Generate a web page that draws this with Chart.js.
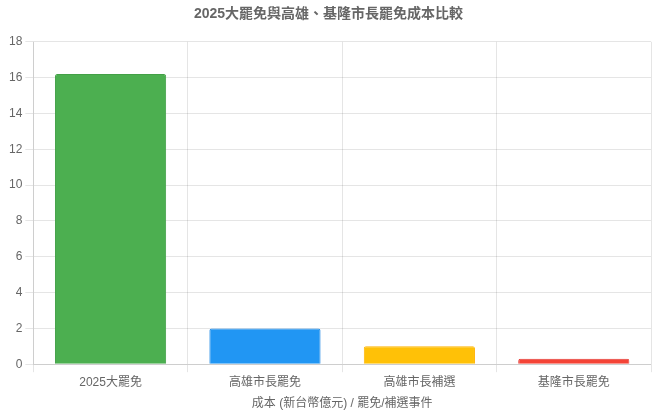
<!DOCTYPE html>
<html>
<head>
<meta charset="utf-8">
<script src="https://cdn.jsdelivr.net/npm/chart.js@4"></script>
<style>
  html, body { margin: 0; padding: 0; background: #fff; }
  #wrap { width: 661px; height: 415px; }
</style>
</head>
<body>
<div id="wrap"><canvas id="chart"></canvas></div>
<script>
// chart data
var categories = ["2025大罷免", "高雄市長罷免", "高雄市長補選", "基隆市長罷免"];
var costs = [16.2, 2.0, 1.0, 0.3];
var barColors = ["#4CAF50", "#2196F3", "#FFC107", "#F44336"];
var borderColors = ["#43A047", "#1E88E5", "#FFB300", "#E53935"];

Chart.defaults.font.family = "Arial, 'Liberation Sans', 'Noto Sans CJK TC', sans-serif";
Chart.defaults.color = "#666";

var ctx = document.getElementById("chart").getContext("2d");
var myChart = new Chart(ctx, {
    type: 'bar',
    data: {
        labels: categories,
        datasets: [{
            label: '成本 (新台幣億元)',
            data: costs,
            backgroundColor: barColors,
            borderColor: borderColors,
            borderWidth: 1,
            borderRadius: 2
        }]
    },
    options: {
        responsive: true,
        maintainAspectRatio: false,
        animation: false,
        layout: { padding: { left: 6, right: 10, bottom: 0 } },
        plugins: {
            legend: { display: false },
            title: {
                display: true,
                text: '2025大罷免與高雄、基隆市長罷免成本比較',
                font: { size: 14, weight: 'bold' },
                padding: { top: 6, bottom: 19 }
            }
        },
        scales: {
            y: {
                min: 0,
                max: 18,
                ticks: { stepSize: 2 }
            },
            x: {
                title: {
                    display: true,
                    text: '成本 (新台幣億元) / 罷免/補選事件'
                }
            }
        }
    }
});
</script>
</body>
</html>
